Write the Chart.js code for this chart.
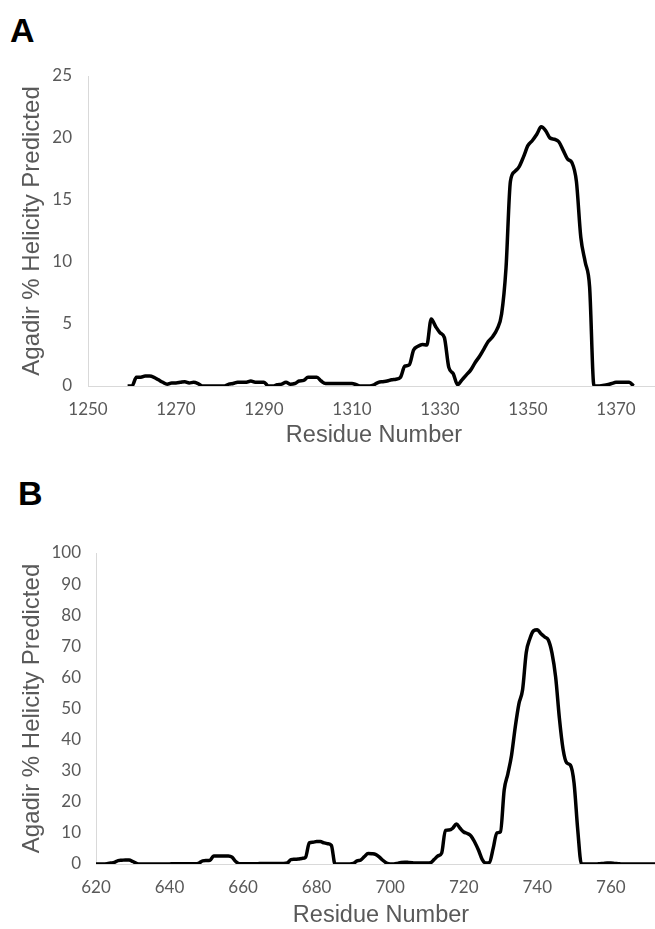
<!DOCTYPE html>
<html>
<head>
<meta charset="utf-8">
<script src="https://cdn.jsdelivr.net/npm/chart.js@4.4.1/dist/chart.umd.min.js"></script>
<style>
  html, body { margin: 0; padding: 0; background: #fff; overflow: hidden; width: 655px; height: 929px; }
  .panel { position: absolute; left: 0; }
  .tag { position: absolute; font: bold 34px "Liberation Sans", Arial, sans-serif; color: #000; line-height: 34px; }
</style>
</head>
<body>
<div class="tag" style="left:10px;top:13px">A</div>
<div class="tag" style="left:18px;top:476px">B</div>
<div class="panel" style="top:0"><canvas id="chartA" width="680" height="460"></canvas></div>
<div class="panel" style="top:470px"><canvas id="chartB" width="680" height="459"></canvas></div>
<script>
// ── Panel A: residues 1259–1374 ─────────────────────────────────────────────
const startA = 1259;
const helicityA = [
  0, 0, 0.7, 0.7, 0.8, 0.8, 0.7, 0.5, 0.3, 0.15,
  0.25, 0.25, 0.3, 0.35, 0.25, 0.3, 0.2, 0, 0, 0,
  0, 0, 0, 0.15, 0.2, 0.3, 0.3, 0.3, 0.4, 0.3,
  0.3, 0.3, 0, 0, 0.1, 0.15, 0.3, 0.15, 0.2, 0.4,
  0.45, 0.7, 0.7, 0.7, 0.4, 0.2, 0.2, 0.2, 0.2, 0.2,
  0.2, 0.2, 0.1, 0, 0, 0, 0.1, 0.3, 0.35, 0.4,
  0.5, 0.55, 0.7, 1.6, 1.7, 2.9, 3.2, 3.35, 3.3, 5.4,
  4.8, 4.3, 3.9, 1.5, 1.0, 0.1, 0.5, 0.9, 1.3, 1.9,
  2.4, 3.0, 3.6, 4.0, 4.6, 5.8, 9.5, 16.5, 17.3, 17.7,
  18.5, 19.4, 19.8, 20.3, 20.9, 20.6, 20.0, 19.9, 19.7, 19.0,
  18.3, 18.0, 16.5, 12.0, 10.0, 8.0, 0, 0, 0.05, 0.1,
  0.2, 0.3, 0.3, 0.3, 0.3, 0
];
const xTicksA = [1250, 1270, 1290, 1310, 1330, 1350, 1370];

// ── Panel B: residues 620–775 ───────────────────────────────────────────────
const startB = 620;
const helicityB = [
  0, 0, 0, 0.1, 0.3, 0.5, 1.1, 1.2, 1.3, 1.3,
  0.8, 0.2, 0, 0, 0, 0, 0, 0, 0, 0,
  0, 0.1, 0.1, 0.1, 0.1, 0.1, 0.1, 0.1, 0.3, 1.0,
  1.1, 1.2, 2.6, 2.6, 2.6, 2.6, 2.6, 2.2, 0.8, 0.1,
  0.1, 0.1, 0.1, 0.1, 0.1, 0.2, 0.2, 0.2, 0.2, 0.2,
  0.2, 0.2, 0.3, 1.4, 1.5, 1.6, 1.8, 2.2, 6.8, 7.0,
  7.2, 7.2, 6.8, 6.5, 6.0, 0, 0, 0, 0, 0,
  0.2, 1.0, 1.3, 2.4, 3.4, 3.3, 3.1, 2.3, 1.2, 0.3,
  0, 0, 0.2, 0.5, 0.6, 0.5, 0.4, 0.3, 0.3, 0.3,
  0.3, 0.4, 1.5, 2.6, 3.5, 10.8, 10.9, 11.5, 12.9, 11.5,
  10.3, 9.8, 9.0, 7.0, 4.5, 1.5, 0.3, 0.5, 5.0, 10.0,
  10.4, 23.8, 29.0, 35.0, 44.0, 51.5, 56.0, 68.0, 72.5, 75.0,
  75.3, 74.0, 73.0, 72.0, 67.8, 60.0, 47.0, 37.0, 32.5, 31.8,
  26.0, 11.0, 0, 0, 0, 0, 0, 0.1, 0.2, 0.3,
  0.3, 0.2, 0.1, 0, 0, 0, 0, 0, 0, 0,
  0, 0, 0, 0, 0, 0
];
const xTicksB = [620, 640, 660, 680, 700, 720, 740, 760];

const GREY_TEXT = '#595959';
const AXIS_LINE = '#d9d9d9';
const TICK_FONT = { family: 'Lato, sans-serif', size: 17 };

function drawPanel(id, start, values, o) {
  const pts = values.map((v, i) => ({ x: start + i, y: v }));
  return new Chart(document.getElementById(id), {
    type: 'line',
    data: { datasets: [{ data: pts, borderColor: '#000', borderWidth: 3.5, pointRadius: 0,
      cubicInterpolationMode: 'monotone', fill: false }] },
    options: {
      responsive: false, animation: false, devicePixelRatio: 1,
      layout: { padding: { top: o.padTop, right: o.padRight, left: 0, bottom: 0 } },
      plugins: { legend: { display: false }, tooltip: { enabled: false } },
      scales: {
        x: {
          type: 'linear', min: o.xMin, max: o.xMax,
          afterBuildTicks: s => { s.ticks = o.xTicks.map(v => ({ value: v })); },
          afterFit: s => { s.height = o.xAxisH; },
          grid: { display: false, drawTicks: false },
          border: { color: AXIS_LINE, width: 1 },
          ticks: { color: GREY_TEXT, font: TICK_FONT, padding: 13, maxRotation: 0, autoSkip: false,
            callback: v => String(v) },
          title: { display: true, text: 'Residue Number', color: GREY_TEXT,
            font: { family: '"Liberation Sans", Arial, sans-serif', size: 23.5 }, padding: { top: 0, bottom: o.xTitlePad } }
        },
        y: {
          min: 0, max: o.yMax,
          afterFit: s => { s.width = o.yAxisW; },
          grid: { display: false, drawTicks: false },
          border: { color: AXIS_LINE, width: 1 },
          ticks: { stepSize: o.yStep, color: GREY_TEXT, font: TICK_FONT, padding: o.yTickPad },
          title: { display: true, text: 'Agadir % Helicity Predicted', color: GREY_TEXT,
            font: { family: '"Liberation Sans", Arial, sans-serif', size: 24 }, padding: { top: 17.6, bottom: 0 } }
        }
      }
    }
  });
}

drawPanel('chartA', startA, helicityA, {
  xMin: 1250, xMax: 1380, xTicks: xTicksA, yMax: 25, yStep: 5,
  padTop: 76, padRight: 20, yAxisW: 88, xAxisH: 74, xTitlePad: 10, yTickPad: 16
});
drawPanel('chartB', startB, helicityB, {
  xMin: 620, xMax: 775, xTicks: xTicksB, yMax: 100, yStep: 10,
  padTop: 83, padRight: 14, yAxisW: 96, xAxisH: 65, xTitlePad: -1, yTickPad: 15
});
</script>
</body>
</html>
